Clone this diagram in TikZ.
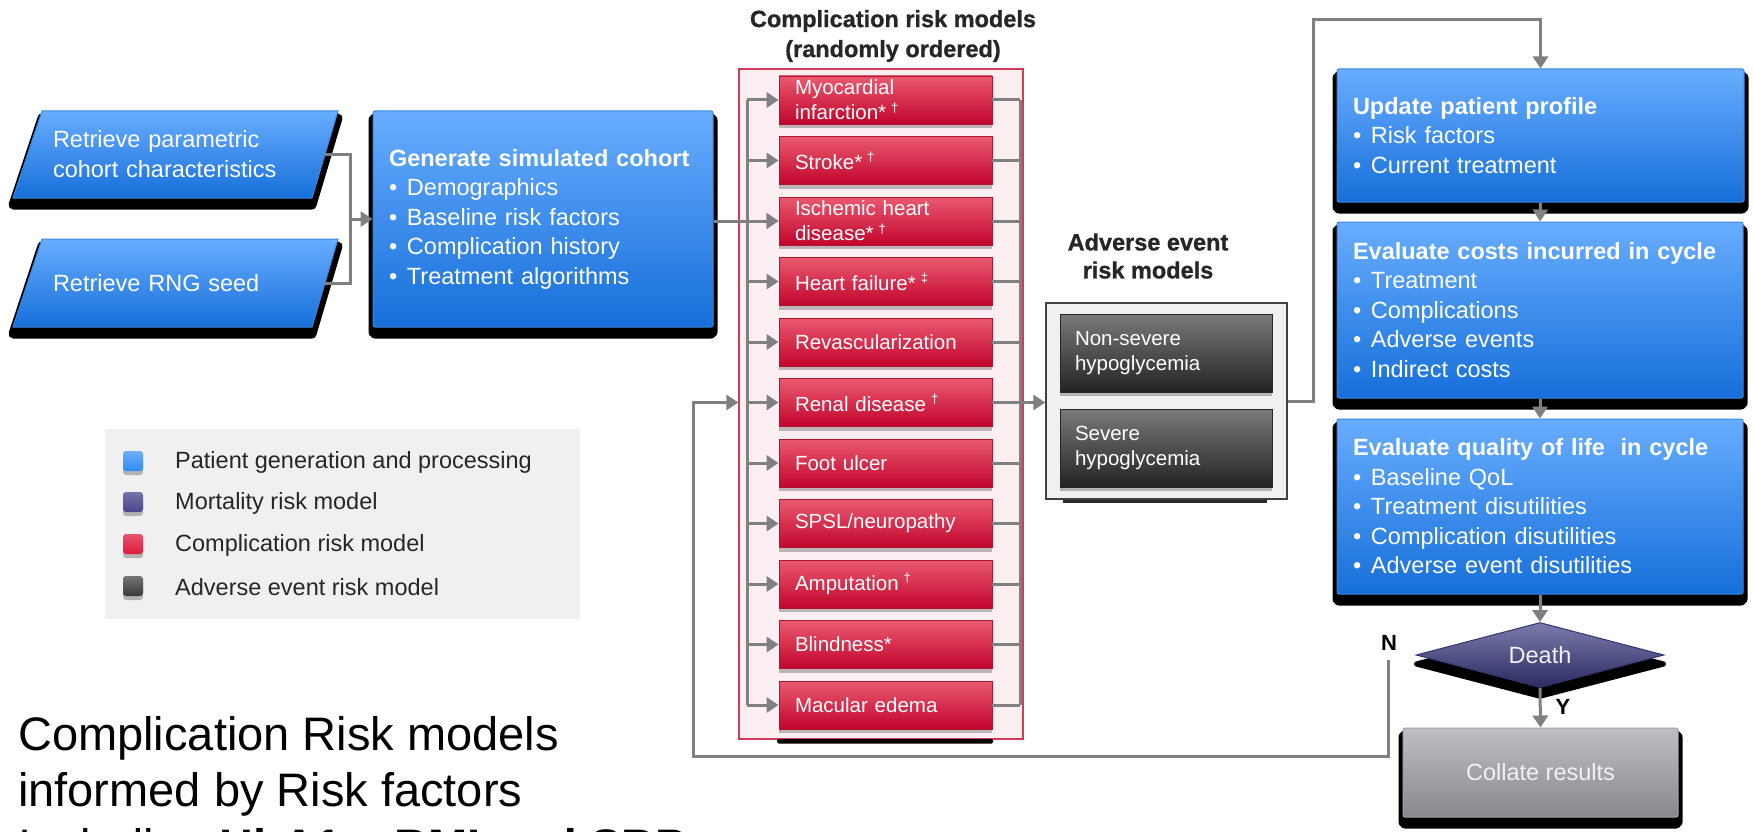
\documentclass[tikz,border=0pt]{standalone}
\usepackage{fontspec}
\setmainfont{Liberation Sans}
\newfontfamily\hdrfont{Liberation Sans Bold}[FakeBold=0.9]
\usetikzlibrary{arrows.meta,shapes.geometric,shadows}

\definecolor{bluetop}{HTML}{68ADFF}
\definecolor{bluebot}{HTML}{166FD9}
\definecolor{blueedge}{HTML}{3C86DE}
\definecolor{redtop}{HTML}{EA5A70}
\definecolor{redbot}{HTML}{C2042C}
\definecolor{rededge}{HTML}{B01530}
\definecolor{darktop}{HTML}{7A7A7A}
\definecolor{darkbot}{HTML}{232323}
\definecolor{purtop}{HTML}{7C7CAC}
\definecolor{purbot}{HTML}{2A2A60}
\definecolor{puredge}{HTML}{34346E}
\definecolor{graytop}{HTML}{BEBEC4}
\definecolor{graybot}{HTML}{88888F}
\definecolor{grayedge}{HTML}{A4A4AA}
\definecolor{linegray}{HTML}{808080}
\definecolor{pinkfill}{HTML}{FDEEF2}
\definecolor{pinkedge}{HTML}{D23C5A}
\definecolor{legendbg}{HTML}{F0F0F0}
\definecolor{inktext}{HTML}{262626}
\definecolor{legblue}{HTML}{2F8BF5}
\definecolor{legpurple}{HTML}{46468A}
\definecolor{legred}{HTML}{DE1A3C}
\definecolor{legdark}{HTML}{3A3A3A}

\newcommand\fs[2]{\fontsize{#1}{#2}\selectfont}
\newcommand\bul{\makebox[18pt][l]{\textbullet}}
\newcommand\dg[1]{\hspace{5pt}\raisebox{0.38em}{\fs{13}{13}#1}}

\begin{document}
\begin{tikzpicture}[x=1pt,y=-1pt,
  blkshadow/.style={general shadow={fill=black, draw=black, line width=9pt, line join=round, shadow yshift=-7pt}},
  softshadow/.style={general shadow={fill=black, opacity=0.25, shadow yshift=-4pt}},
  boxbase/.style={rectangle, inner ysep=0pt, align=left},
  bluefill/.style={draw=blueedge, line width=1pt, top color=bluetop, bottom color=bluebot},
  bluebox/.style={boxbase, rounded corners=2pt, bluefill, text=white, inner xsep=16pt,
    font=\fs{23.5}{29.5}, blkshadow},
  retrtext/.style={inner sep=0pt, align=left, text width=245pt, minimum width=299pt,
    minimum height=87pt, text=white, font=\fs{23.5}{30}},
  redbox/.style={boxbase, draw=rededge, line width=0.8pt, top color=redtop,
    bottom color=redbot, text=white, inner xsep=16pt, text width=181pt,
    minimum height=48pt, font=\fs{20.5}{25}, softshadow},
  darkbox/.style={boxbase, draw=black!85, line width=0.8pt, top color=darktop,
    bottom color=darkbot, text=white, inner xsep=15pt, text width=182pt,
    minimum height=78pt, font=\fs{20.5}{25}, softshadow},
  hdr/.style={align=center, text=inktext, font=\hdrfont\fs{23.5}{30}, inner sep=0pt},
  legsq/.style={rectangle, rounded corners=3pt, minimum size=20pt, inner sep=0pt, softshadow},
  legtext/.style={anchor=west, inner sep=0pt, text=inktext, font=\fs{23.5}{28}},
  yn/.style={inner sep=0pt, text=black, font=\bfseries\fs{22}{22}},
  bigtext/.style={anchor=base west, inner sep=0pt, text=black, font=\fs{47}{56}},
  conn/.style={draw=linegray, line width=3pt},
  arr/.style={conn, -{Triangle[length=12pt,width=15pt]}}
]
\path[use as bounding box, fill=white] (0,0) rectangle (1754,832);
\clip (0,0) rectangle (1754,832);

% legend
\node[fill=legendbg, minimum width=475pt, minimum height=190pt, inner sep=0pt] (leg) at (342.5,524) {};
\node[legsq, top color=legblue!70!white, bottom color=legblue] (lq1) at (133,461) {};
\node[legsq, top color=legpurple!75!white, bottom color=legpurple] (lq2) at (133,502) {};
\node[legsq, top color=legred!75!white, bottom color=legred] (lq3) at (133,544) {};
\node[legsq, top color=legdark!70!white, bottom color=legdark] (lq4) at (133,586) {};
\node[legtext] (lt1) at (175,462) {Patient generation and processing};
\node[legtext] (lt2) at (175,503) {Mortality risk model};
\node[legtext] (lt3) at (175,545) {Complication risk model};
\node[legtext] (lt4) at (175,587) {Adverse event risk model};

% cohort generation: slanted input boxes
\path[bluefill, blkshadow] (42,111) -- (338,111) -- (312,198) -- (13,198) -- cycle;
\path[bluefill, blkshadow] (42,239) -- (338,239) -- (312,327) -- (13,327) -- cycle;
\node[retrtext] (ret1) at (175.5,154.5) {Retrieve parametric\\cohort characteristics};
\node[retrtext] (ret2) at (175.5,283) {Retrieve RNG seed};
\node[bluebox, text width=308pt, minimum height=216pt] (gen) at (543,219)
  {\textbf{Generate simulated cohort}\\\bul Demographics\\\bul Baseline risk factors\\\bul Complication history\\\bul Treatment algorithms};

% complication risk models
\node[hdr] (hc) at (893,36) {Complication risk models\\(randomly ordered)};
\node[draw=pinkedge, line width=1.5pt, fill=pinkfill, minimum width=284pt, minimum height=670pt, inner sep=0pt] (pf) at (881,404) {};
\fill[black, rounded corners=1.5pt] (777,739) rectangle (993,743.5);
\node[redbox] (r1) at (885.5,100) {Myocardial\\infarction*\dg{†}};
\node[redbox] (r2) at (885.5,160.5) {Stroke*\dg{†}};
\node[redbox] (r3) at (885.5,221) {Ischemic heart\\disease*\dg{†}};
\node[redbox] (r4) at (885.5,281.5) {Heart failure*\dg{‡}};
\node[redbox] (r5) at (885.5,342) {Revascularization};
\node[redbox] (r6) at (885.5,402.5) {Renal disease\dg{†}};
\node[redbox] (r7) at (885.5,463) {Foot ulcer};
\node[redbox] (r8) at (885.5,523.5) {SPSL/neuropathy};
\node[redbox] (r9) at (885.5,584) {Amputation\dg{†}};
\node[redbox] (r10) at (885.5,644.5) {Blindness*};
\node[redbox] (r11) at (885.5,705) {Macular edema};

% adverse event risk models
\node[hdr, font=\hdrfont\fs{23.5}{28}] (ha) at (1148,256) {Adverse event\\risk models};
\node[draw=black!75, line width=1.5pt, fill=legendbg, minimum width=241pt, minimum height=196pt, inner sep=0pt] (ae) at (1166.5,401) {};
\fill[black!85] (1063,500) rectangle (1267,503);
\node[darkbox] (a1) at (1166,353) {Non-severe\\hypoglycemia};
\node[darkbox] (a2) at (1166,448) {Severe\\hypoglycemia};

% cycle processing
\node[bluebox, text width=375pt, minimum height=133pt] (up) at (1540.5,135.5)
  {\textbf{Update patient profile}\\\bul Risk factors\\\bul Current treatment};
\node[bluebox, text width=374pt, minimum height=176pt] (co) at (1540,310)
  {\textbf{Evaluate costs incurred in cycle}\\\bul Treatment\\\bul Complications\\\bul Adverse events\\\bul Indirect costs};
\node[bluebox, text width=374pt, minimum height=175pt] (ql) at (1540,506.5)
  {\textbf{Evaluate quality of life\ \ in cycle}\\\bul Baseline QoL\\\bul Treatment disutilities\\\bul Complication disutilities\\\bul Adverse event disutilities};
\node[diamond, aspect=3.8, minimum width=248pt, minimum height=65pt, inner sep=0pt,
  draw=puredge, line width=1pt, top color=purtop, bottom color=purbot,
  text=white!94!black, font=\fs{23.5}{28},
  general shadow={fill=black, draw=black, line width=5pt, line join=round, shadow yshift=-9pt}] (dth) at (1540,655) {Death};
\node[rectangle, rounded corners=2pt, minimum width=275pt, minimum height=89pt, inner sep=0pt,
  draw=grayedge, line width=1pt, top color=graytop, bottom color=graybot,
  text=white!95!black, font=\fs{23.5}{28}, blkshadow] (col) at (1540.5,772.5) {Collate results};

% connectors
\coordinate (jn) at (350,219);
\draw[conn] (ret1.east) -| (jn);
\draw[conn] (ret2.east) -| (jn);
\draw[arr] (jn) -- (gen.west);
\draw[arr] (gen.east |- r3.west) -- (r3.west);

\coordinate (bl) at (747,0);
\coordinate (br) at (1020,0);
\draw[conn] (bl |- r1.west) -- (bl |- r11.west);
\draw[conn] (br |- r1.east) -- (br |- r11.east);
\foreach \i in {1,...,11} {
  \draw[arr] (bl |- r\i.west) -- (r\i.west);
  \draw[conn] (r\i.east) -- (br |- r\i.east);
}
\draw[arr] (br |- r6.east) -- (r6.east -| ae.west);

\coordinate (tp) at (1313,20);
\draw[arr] (ae.east) -| (tp) -| (up.north);
\draw[arr] (up.south) -- (co.north);
\draw[arr] (co.south) -- (ql.north);
\draw[arr] (ql.south) -- (dth.north);
\draw[arr] (dth.south) -- (col.north);
\node[yn] (ylab) at (1563,707) {Y};
\node[yn] (nlab) at (1389,643) {N};

\coordinate (nst) at (1388,660);
\coordinate (lpb) at (693,756);
\draw[arr] (nst) |- (lpb) |- (pf.west |- r6.west);

% caption text
\node[bigtext] (bt1) at (18,750) {Complication Risk models};
\node[bigtext] (bt2) at (18,806) {informed by Risk factors};
\node[bigtext] (bt3) at (18,862) {Including \textbf{HbA1c, BMI and SBP}};
\end{tikzpicture}
\end{document}
